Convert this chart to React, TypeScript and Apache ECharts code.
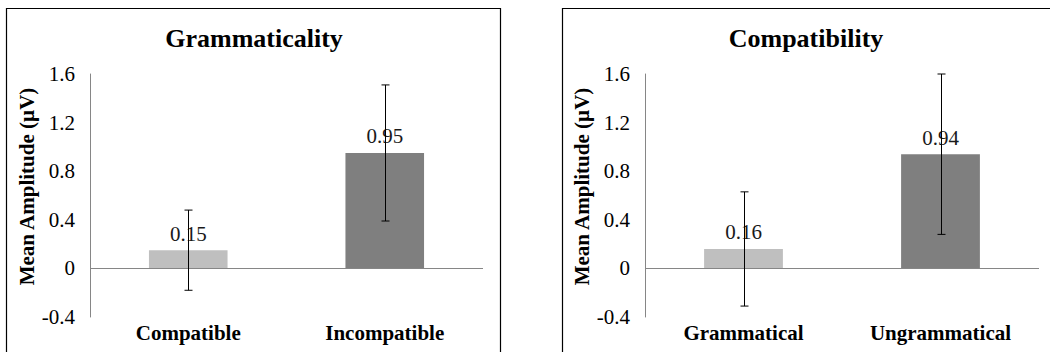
import React, { useEffect, useRef } from "react";
import * as echarts from "echarts";

const leftTitle = "Grammaticality";
const rightTitle = "Compatibility";
const leftCategories = ["Compatible", "Incompatible"];
const rightCategories = ["Grammatical", "Ungrammatical"];
const leftValues = [0.15, 0.95];
const rightValues = [0.16, 0.94];
// [category index, low, high]
const leftErrors = [
  [0, -0.18, 0.48],
  [1, 0.39, 1.51],
];
const rightErrors = [
  [0, -0.31, 0.63],
  [1, 0.28, 1.6],
];
const barColors = ["#bfbfbf", "#7f7f7f"];
const yAxisName = "Mean Amplitude (µV)";
const yMin = -0.4;
const yMax = 1.6;
const yInterval = 0.4;

const FONT = "Times New Roman, Liberation Serif, serif";

export default function App() {
  const ref = useRef<HTMLDivElement>(null);

  useEffect(() => {
    document.body.style.margin = "0";
    if (!ref.current) return;
    const chart = echarts.init(ref.current, null, { renderer: "svg" });

    const errorRender = (params: any, api: any) => {
      const x = api.value(0);
      const lo = api.value(1);
      const hi = api.value(2);
      const pHi = api.coord([x, hi]);
      const pLo = api.coord([x, lo]);
      const half = 4;
      const cx = Math.round(pHi[0]) + 0.5;
      const st = { stroke: "#000", lineWidth: 1 };
      return {
        type: "group",
        children: [
          { type: "line", shape: { x1: cx, y1: pHi[1], x2: cx, y2: pLo[1] }, style: st },
          { type: "line", shape: { x1: cx - half, y1: pHi[1], x2: cx + half, y2: pHi[1] }, style: st },
          { type: "line", shape: { x1: cx - half, y1: pLo[1], x2: cx + half, y2: pLo[1] }, style: st },
        ],
      };
    };

    const makeX = (gridIndex: number, cats: string[]) => ({
      type: "category",
      gridIndex,
      data: cats,
      position: "bottom",
      axisLine: { show: false, onZero: false },
      axisTick: { show: false },
      axisLabel: {
        margin: 5,
        fontFamily: FONT,
        fontSize: 21,
        fontWeight: "bold",
        color: "#000",
      },
      splitLine: { show: false },
    });

    const makeY = (gridIndex: number) => ({
      type: "value",
      gridIndex,
      min: yMin,
      max: yMax,
      interval: yInterval,
      name: yAxisName,
      nameLocation: "middle",
      nameRotate: 90,
      nameGap: 50,
      nameTextStyle: {
        fontFamily: FONT,
        fontSize: 21,
        fontWeight: "bold",
        color: "#000",
        padding: [0, 0, 0, 18],
      },
      axisLine: { show: true, lineStyle: { color: "#868686", width: 1 } },
      axisTick: { show: false },
      splitLine: { show: false },
      axisLabel: {
        margin: 15,
        fontFamily: FONT,
        fontSize: 21,
        color: "#000",
      },
    });

    const makeBar = (idx: number, values: number[]) => ({
      type: "bar",
      xAxisIndex: idx,
      yAxisIndex: idx,
      barCategoryGap: "60%",
      data: values.map((v, i) => ({ value: v, itemStyle: { color: barColors[i] } })),
      label: {
        show: true,
        position: "top",
        distance: 6,
        fontFamily: FONT,
        fontSize: 21,
        color: "#1a1a1a",
      },
      markLine: {
        silent: true,
        symbol: "none",
        label: { show: false },
        lineStyle: { color: "#868686", width: 1, type: "solid" },
        data: [{ yAxis: 0 }],
      },
      z: 2,
    });

    const makeErr = (idx: number, data: number[][]) => ({
      type: "custom",
      xAxisIndex: idx,
      yAxisIndex: idx,
      data,
      encode: { x: 0, y: [1, 2] },
      renderItem: errorRender,
      z: 5,
    });

    chart.setOption({
      animation: false,
      backgroundColor: "#fff",
      textStyle: { fontFamily: FONT },
      title: [
        {
          text: leftTitle,
          left: 254,
          top: 25,
          textAlign: "center",
          padding: 0,
          textStyle: { fontFamily: FONT, fontSize: 26, fontWeight: "bold", color: "#000" },
        },
        {
          text: rightTitle,
          left: 806,
          top: 25,
          textAlign: "center",
          padding: 0,
          textStyle: { fontFamily: FONT, fontSize: 26, fontWeight: "bold", color: "#000" },
        },
      ],
      graphic: [
        {
          type: "rect",
          shape: { x: 6.5, y: 8.5, width: 494, height: 360 },
          style: { fill: "none", stroke: "#000", lineWidth: 1.2 },
          z: 0,
        },
        {
          type: "rect",
          shape: { x: 562.5, y: 8.5, width: 500, height: 360 },
          style: { fill: "none", stroke: "#000", lineWidth: 1.2 },
          z: 0,
        },
      ],
      grid: [
        { left: 90, right: 567, top: 74, bottom: 35 },
        { left: 645, right: 11, top: 74, bottom: 35 },
      ],
      xAxis: [makeX(0, leftCategories), makeX(1, rightCategories)],
      yAxis: [makeY(0), makeY(1)],
      series: [
        makeBar(0, leftValues),
        makeErr(0, leftErrors),
        makeBar(1, rightValues),
        makeErr(1, rightErrors),
      ],
    });

    return () => {
      chart.dispose();
    };
  }, []);

  return <div ref={ref} style={{ width: 1050, height: 352 }} />;
}
